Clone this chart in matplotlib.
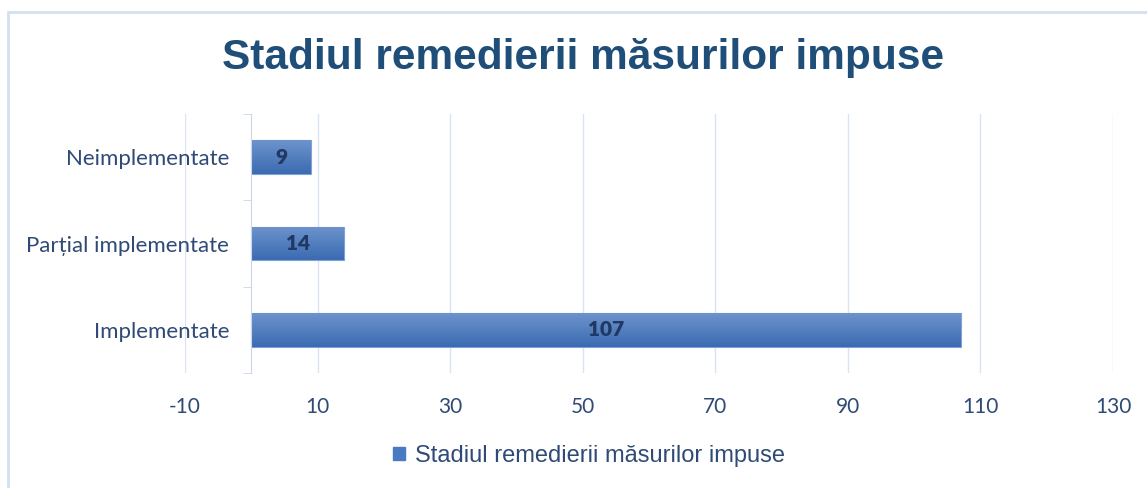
import numpy as np
import matplotlib.pyplot as plt
from matplotlib.patches import Rectangle
from matplotlib.colors import LinearSegmentedColormap

categories = ['Implementate', 'Parțial implementate', 'Neimplementate']
values = [107, 14, 9]
x_ticks = [-10, 10, 30, 50, 70, 90, 110, 130]
title = 'Stadiul remedierii măsurilor impuse'
series_name = 'Stadiul remedierii măsurilor impuse'

text_color = '#2F4A75'
title_color = '#1F4E79'
grid_color = '#D9E3F1'

fig = plt.figure(figsize=(11.47, 4.88), dpi=100)
fig.patches.append(Rectangle((8/1147, -0.1), 1.2, 1 - 12/488 + 0.1, transform=fig.transFigure,
                             fill=False, edgecolor='#D3E0F1', linewidth=2))

ax = fig.add_axes([185/1147, 1 - 373/488, (1113 - 185)/1147, (373 - 114)/488])

# spine position first: moving it resets tick settings
for s in ['top', 'right', 'bottom']:
    ax.spines[s].set_visible(False)
ax.spines['left'].set_position(('data', 0))
ax.spines['left'].set_color('#C9D7EA')
ax.spines['left'].set_zorder(4)

y = np.arange(len(categories))
bars = ax.barh(y, values, height=0.39, color='#4A7BC0', edgecolor='#7FA3D6', linewidth=0.8, zorder=3)

# vertical gradient inside each bar, lighter on top
cmap = LinearSegmentedColormap.from_list('barg', ['#3B6BB2', '#6D93CC'])
grad = np.linspace(0, 1, 64).reshape(-1, 1)
for b in bars:
    x0, y0 = b.get_x(), b.get_y()
    w, h = b.get_width(), b.get_height()
    im = ax.imshow(grad, cmap=cmap, aspect='auto', extent=(x0, x0 + w, y0 + h, y0),
                   origin='upper', zorder=3.5)
    im.set_clip_path(b)
    ax.text(x0 + w / 2, y0 + h / 2, str(w), ha='center', va='center', fontsize=15,
            fontweight='heavy', color='#1F3864', family='Lato', zorder=5)

ax.set_xlim(-10, 130)
ax.set_ylim(-0.5, 2.5)
ax.set_xticks(x_ticks)
ax.set_xticklabels([str(v) for v in x_ticks], fontsize=15, color=text_color, family='Lato')
ax.tick_params(axis='x', length=0, pad=17)
ax.grid(axis='x', color=grid_color, linewidth=1, zorder=0)

ax.set_yticks(y)
ax.set_yticklabels(categories, fontsize=16, color=text_color, family='Lato')
ax.set_yticks([-0.5, 0.5, 1.5, 2.5], minor=True)
ax.tick_params(axis='y', which='major', length=0, pad=16)
ax.tick_params(axis='y', which='minor', length=6, color='#C9D7EA', direction='out')

fig.text(0.508, 1 - 58/488, title, ha='center', va='center', fontsize=30.5, fontweight='bold',
         color=title_color, family='Liberation Sans')

leg = fig.legend([Rectangle((0, 0), 1, 1, color='#4A7BC0')], [series_name], loc='center',
                 bbox_to_anchor=(0.5135, 1 - 456/488), frameon=False, handlelength=0.5,
                 handleheight=0.5, handletextpad=0.4,
                 prop={'family': 'Liberation Sans', 'size': 17})
for t in leg.get_texts():
    t.set_color(text_color)

fig.savefig('out.png', dpi=100)
